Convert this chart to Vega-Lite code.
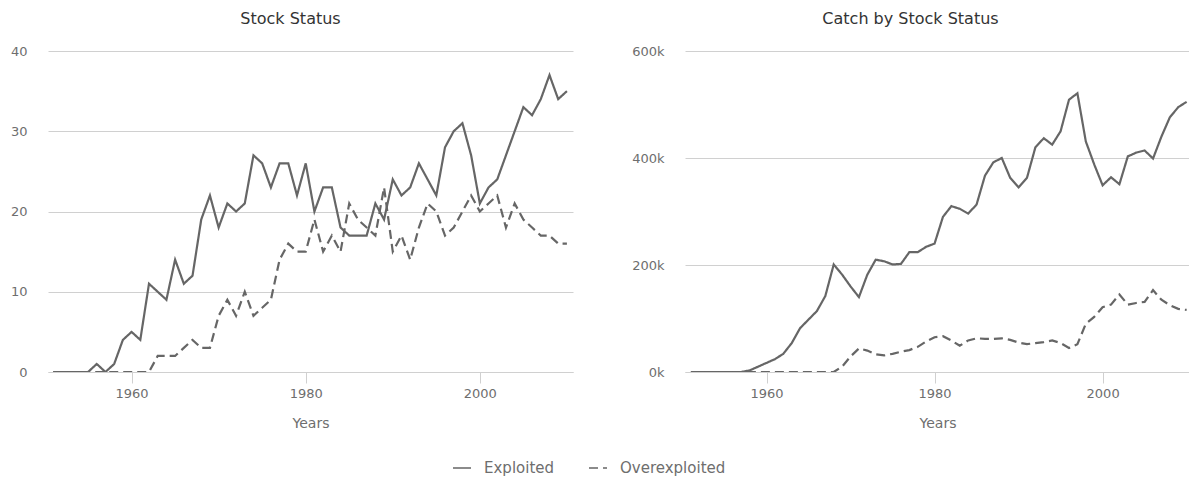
{
  "$schema": "https://vega.github.io/schema/vega-lite/v6.json",
  "padding": {"left": 10, "top": 11, "right": 0, "bottom": 0},
  "background": "white",
  "datasets": {
    "stocks": [
      {"year":1951,"status":"Exploited","stocks":0,"catch":0},{"year":1952,"status":"Exploited","stocks":0,"catch":0},{"year":1953,"status":"Exploited","stocks":0,"catch":0},{"year":1954,"status":"Exploited","stocks":0,"catch":0},{"year":1955,"status":"Exploited","stocks":0,"catch":0},{"year":1956,"status":"Exploited","stocks":1,"catch":0},{"year":1957,"status":"Exploited","stocks":0,"catch":0},{"year":1958,"status":"Exploited","stocks":1,"catch":3000},{"year":1959,"status":"Exploited","stocks":4,"catch":10000},{"year":1960,"status":"Exploited","stocks":5,"catch":17000},
      {"year":1961,"status":"Exploited","stocks":4,"catch":24000},{"year":1962,"status":"Exploited","stocks":11,"catch":34000},{"year":1963,"status":"Exploited","stocks":10,"catch":54000},{"year":1964,"status":"Exploited","stocks":9,"catch":82000},{"year":1965,"status":"Exploited","stocks":14,"catch":98000},{"year":1966,"status":"Exploited","stocks":11,"catch":114000},{"year":1967,"status":"Exploited","stocks":12,"catch":142000},{"year":1968,"status":"Exploited","stocks":19,"catch":201000},{"year":1969,"status":"Exploited","stocks":22,"catch":182000},{"year":1970,"status":"Exploited","stocks":18,"catch":160000},
      {"year":1971,"status":"Exploited","stocks":21,"catch":140000},{"year":1972,"status":"Exploited","stocks":20,"catch":182000},{"year":1973,"status":"Exploited","stocks":21,"catch":210000},{"year":1974,"status":"Exploited","stocks":27,"catch":207000},{"year":1975,"status":"Exploited","stocks":26,"catch":201000},{"year":1976,"status":"Exploited","stocks":23,"catch":202000},{"year":1977,"status":"Exploited","stocks":26,"catch":224000},{"year":1978,"status":"Exploited","stocks":26,"catch":224000},{"year":1979,"status":"Exploited","stocks":22,"catch":234000},{"year":1980,"status":"Exploited","stocks":26,"catch":240000},
      {"year":1981,"status":"Exploited","stocks":20,"catch":290000},{"year":1982,"status":"Exploited","stocks":23,"catch":310000},{"year":1983,"status":"Exploited","stocks":23,"catch":305000},{"year":1984,"status":"Exploited","stocks":18,"catch":296000},{"year":1985,"status":"Exploited","stocks":17,"catch":313000},{"year":1986,"status":"Exploited","stocks":17,"catch":367000},{"year":1987,"status":"Exploited","stocks":17,"catch":392000},{"year":1988,"status":"Exploited","stocks":21,"catch":400000},{"year":1989,"status":"Exploited","stocks":19,"catch":363000},{"year":1990,"status":"Exploited","stocks":24,"catch":345000},
      {"year":1991,"status":"Exploited","stocks":22,"catch":363000},{"year":1992,"status":"Exploited","stocks":23,"catch":420000},{"year":1993,"status":"Exploited","stocks":26,"catch":437000},{"year":1994,"status":"Exploited","stocks":24,"catch":425000},{"year":1995,"status":"Exploited","stocks":22,"catch":450000},{"year":1996,"status":"Exploited","stocks":28,"catch":509000},{"year":1997,"status":"Exploited","stocks":30,"catch":521000},{"year":1998,"status":"Exploited","stocks":31,"catch":431000},{"year":1999,"status":"Exploited","stocks":27,"catch":388000},{"year":2000,"status":"Exploited","stocks":21,"catch":349000},
      {"year":2001,"status":"Exploited","stocks":23,"catch":364000},{"year":2002,"status":"Exploited","stocks":24,"catch":351000},{"year":2003,"status":"Exploited","stocks":27,"catch":403000},{"year":2004,"status":"Exploited","stocks":30,"catch":410000},{"year":2005,"status":"Exploited","stocks":33,"catch":414000},{"year":2006,"status":"Exploited","stocks":32,"catch":399000},{"year":2007,"status":"Exploited","stocks":34,"catch":440000},{"year":2008,"status":"Exploited","stocks":37,"catch":476000},{"year":2009,"status":"Exploited","stocks":34,"catch":495000},{"year":2010,"status":"Exploited","stocks":35,"catch":505000},

      {"year":1951,"status":"Overexploited","stocks":0,"catch":0},{"year":1952,"status":"Overexploited","stocks":0,"catch":0},{"year":1953,"status":"Overexploited","stocks":0,"catch":0},{"year":1954,"status":"Overexploited","stocks":0,"catch":0},{"year":1955,"status":"Overexploited","stocks":0,"catch":0},{"year":1956,"status":"Overexploited","stocks":0,"catch":0},{"year":1957,"status":"Overexploited","stocks":0,"catch":0},{"year":1958,"status":"Overexploited","stocks":0,"catch":0},{"year":1959,"status":"Overexploited","stocks":0,"catch":0},{"year":1960,"status":"Overexploited","stocks":0,"catch":0},
      {"year":1961,"status":"Overexploited","stocks":0,"catch":0},{"year":1962,"status":"Overexploited","stocks":0,"catch":0},{"year":1963,"status":"Overexploited","stocks":2,"catch":0},{"year":1964,"status":"Overexploited","stocks":2,"catch":0},{"year":1965,"status":"Overexploited","stocks":2,"catch":0},{"year":1966,"status":"Overexploited","stocks":3,"catch":0},{"year":1967,"status":"Overexploited","stocks":4,"catch":0},{"year":1968,"status":"Overexploited","stocks":3,"catch":0},{"year":1969,"status":"Overexploited","stocks":3,"catch":10000},{"year":1970,"status":"Overexploited","stocks":7,"catch":29000},
      {"year":1971,"status":"Overexploited","stocks":9,"catch":44000},{"year":1972,"status":"Overexploited","stocks":7,"catch":40000},{"year":1973,"status":"Overexploited","stocks":10,"catch":33000},{"year":1974,"status":"Overexploited","stocks":7,"catch":31000},{"year":1975,"status":"Overexploited","stocks":8,"catch":34000},{"year":1976,"status":"Overexploited","stocks":9,"catch":38000},{"year":1977,"status":"Overexploited","stocks":14,"catch":41000},{"year":1978,"status":"Overexploited","stocks":16,"catch":47000},{"year":1979,"status":"Overexploited","stocks":15,"catch":57000},{"year":1980,"status":"Overexploited","stocks":15,"catch":65000},
      {"year":1981,"status":"Overexploited","stocks":19,"catch":67000},{"year":1982,"status":"Overexploited","stocks":15,"catch":59000},{"year":1983,"status":"Overexploited","stocks":17,"catch":49000},{"year":1984,"status":"Overexploited","stocks":15,"catch":59000},{"year":1985,"status":"Overexploited","stocks":21,"catch":63000},{"year":1986,"status":"Overexploited","stocks":19,"catch":62000},{"year":1987,"status":"Overexploited","stocks":18,"catch":62000},{"year":1988,"status":"Overexploited","stocks":17,"catch":63000},{"year":1989,"status":"Overexploited","stocks":23,"catch":60000},{"year":1990,"status":"Overexploited","stocks":15,"catch":55000},
      {"year":1991,"status":"Overexploited","stocks":17,"catch":52000},{"year":1992,"status":"Overexploited","stocks":14,"catch":54000},{"year":1993,"status":"Overexploited","stocks":18,"catch":56000},{"year":1994,"status":"Overexploited","stocks":21,"catch":59000},{"year":1995,"status":"Overexploited","stocks":20,"catch":54000},{"year":1996,"status":"Overexploited","stocks":17,"catch":45000},{"year":1997,"status":"Overexploited","stocks":18,"catch":52000},{"year":1998,"status":"Overexploited","stocks":20,"catch":90000},{"year":1999,"status":"Overexploited","stocks":22,"catch":103000},{"year":2000,"status":"Overexploited","stocks":20,"catch":121000},
      {"year":2001,"status":"Overexploited","stocks":21,"catch":126000},{"year":2002,"status":"Overexploited","stocks":22,"catch":145000},{"year":2003,"status":"Overexploited","stocks":18,"catch":126000},{"year":2004,"status":"Overexploited","stocks":21,"catch":129000},{"year":2005,"status":"Overexploited","stocks":19,"catch":131000},{"year":2006,"status":"Overexploited","stocks":18,"catch":153000},{"year":2007,"status":"Overexploited","stocks":17,"catch":135000},{"year":2008,"status":"Overexploited","stocks":17,"catch":125000},{"year":2009,"status":"Overexploited","stocks":16,"catch":118000},{"year":2010,"status":"Overexploited","stocks":16,"catch":116000}
    ]
  },
  "data": {"name": "stocks"},
  "hconcat": [
    {
      "title": {"text": "Stock Status", "dx": -20},
      "width": 525,
      "height": 321,
      "mark": {"type": "line", "color": "#666666", "strokeWidth": 2.2, "clip": true},
      "encoding": {
        "x": {"field": "year", "type": "quantitative", "scale": {"domain": [1950.4, 2010.7], "nice": false, "zero": false},
              "axis": {"values": [1960, 1980, 2000], "format": "d", "title": "Years"}},
        "y": {"field": "stocks", "type": "quantitative", "scale": {"domain": [0, 40], "nice": false},
              "axis": {"values": [0, 10, 20, 30, 40], "title": null, "grid": true, "domain": false, "ticks": false, "labelPadding": 21}},
        "strokeDash": {"field": "status", "type": "nominal", "scale": {"domain": ["Exploited", "Overexploited"], "range": [[1, 0], [9, 5]]}, "title": null}
      }
    },
    {
      "title": {"text": "Catch by Stock Status", "dx": -27},
      "width": 505,
      "height": 321,
      "mark": {"type": "line", "color": "#666666", "strokeWidth": 2.2, "clip": true},
      "encoding": {
        "x": {"field": "year", "type": "quantitative", "scale": {"domain": [1950.3, 2010.4], "nice": false, "zero": false},
              "axis": {"values": [1960, 1980, 2000], "format": "d", "title": "Years"}},
        "y": {"field": "catch", "type": "quantitative", "scale": {"domain": [0, 600000], "nice": false},
              "axis": {"values": [0, 200000, 400000, 600000], "labelExpr": "datum.value / 1000 + 'k'", "title": null, "grid": true, "domain": false, "ticks": false, "labelPadding": 21}},
        "strokeDash": {"field": "status", "type": "nominal", "scale": {"domain": ["Exploited", "Overexploited"], "range": [[1, 0], [9, 5]]}, "title": null}
      }
    }
  ],
  "config": {
    "font": "DejaVu Sans",
    "view": {"stroke": null},
    "concat": {"spacing": 58},
    "title": {"font": "DejaVu Sans", "fontSize": 16, "fontWeight": "normal", "color": "#333333", "offset": 18, "anchor": "middle"},
    "axis": {
      "labelFont": "DejaVu Sans", "labelFontSize": 13, "labelColor": "#6e6e6e",
      "titleFont": "DejaVu Sans", "titleFontSize": 14, "titleFontWeight": "normal", "titleColor": "#6e6e6e",
      "gridColor": "#d0d0d0", "gridWidth": 1, "domainColor": "#d0d0d0", "tickColor": "#d0d0d0"
    },
    "axisX": {"grid": false, "tickSize": 11, "labelPadding": 4, "titlePadding": 16, "labelFlush": false},
    "legend": {
      "orient": "none", "legendX": 404, "legendY": 407, "direction": "horizontal",
      "labelFontSize": 15, "labelColor": "#6e6e6e", "labelFont": "DejaVu Sans",
      "symbolType": "stroke", "symbolSize": 324, "symbolStrokeWidth": 1.5, "symbolStrokeColor": "#666666",
      "columnPadding": 31, "labelOffset": 12
    }
  }
}
